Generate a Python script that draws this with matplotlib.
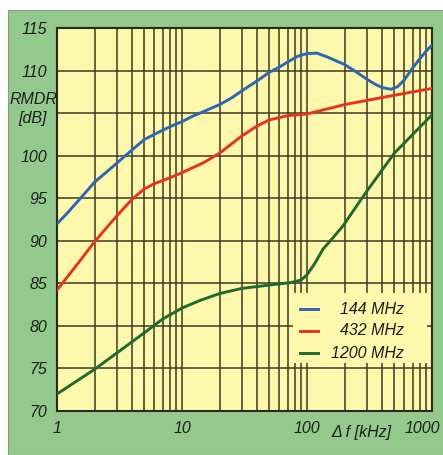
import matplotlib
matplotlib.use("Agg")
import matplotlib.pyplot as plt
import matplotlib.ticker as mticker
import matplotlib.transforms as mtransforms
from matplotlib.patches import Rectangle
from matplotlib.lines import Line2D

plt.rcParams['font.family'] = ['Liberation Sans', 'DejaVu Sans']
plt.rcParams['font.style'] = 'italic'

# values (offset in kHz, RMDR in dB)
f_144 = [1, 1.2, 1.5, 2, 2.5, 3, 4, 5, 6, 8, 10, 12, 15, 20, 25, 30, 40, 50, 60, 70, 85, 100, 120,
         145, 200, 250, 300, 350, 400, 470, 530, 600, 700, 800, 900, 1000]
rmdr_144 = [92.0, 93.2, 94.8, 96.9, 98.1, 99.1, 100.7, 101.9, 102.5, 103.4, 104.0, 104.6, 105.2,
            106.0, 106.8, 107.6, 108.8, 109.8, 110.4, 111.0, 111.7, 112.0, 112.05, 111.6, 110.7,
            109.8, 109.0, 108.4, 108.0, 107.8, 108.1, 108.9, 110.3, 111.4, 112.3, 113.0]

f_432 = [1, 1.5, 2, 3, 4, 5, 6, 8, 10, 15, 20, 30, 40, 50, 70, 100, 200, 500, 1000]
rmdr_432 = [84.2, 87.5, 89.9, 92.9, 94.9, 96.1, 96.7, 97.4, 98.0, 99.2, 100.3, 102.3, 103.5, 104.2,
            104.7, 104.9, 106.0, 107.1, 107.9]

f_1200 = [1, 2, 3, 5, 7, 10, 14, 20, 30, 50, 75, 90, 100, 115, 134, 160, 193, 300, 500, 1000]
rmdr_1200 = [72.0, 74.9, 76.8, 79.2, 80.8, 82.1, 83.0, 83.8, 84.4, 84.8, 85.1, 85.4, 86.0,
             87.3, 89.0, 90.3, 91.7, 95.8, 100.3, 104.8]

series = [
    ("144 MHz", f_144, rmdr_144, "#2d66b4"),
    ("432 MHz", f_432, rmdr_432, "#e5331f"),
    ("1200 MHz", f_1200, rmdr_1200, "#1f6a2c"),
]

x_ticks = [1, 10, 100, 1000]
y_ticks = list(range(70, 116, 5))
# the 105 slot carries the axis caption instead of a number
y_labels = ["" if t == 105 else str(t) for t in y_ticks]

W, H = 443, 455
fig = plt.figure(figsize=(W / 100, H / 100), dpi=100)
fig.patch.set_facecolor("white")

# green card behind the plot
fig.patches.append(Rectangle((8 / W, 0), 1 - 8 / W, 1 - 10 / H, transform=fig.transFigure,
                             facecolor="#93c98c", edgecolor="#8a9a88", lw=0.8, zorder=-10))

ax = fig.add_axes([57 / W, (H - 411) / H, 375 / W, 383 / H])
ax.set_facecolor("#fdf8ac")

for label, f, v, c in series:
    ax.plot(f, v, color=c, lw=2.1, solid_capstyle="round", solid_joinstyle="round", zorder=3)

ax.set_xscale("log")
ax.set_xlim(1, 1000)
ax.set_ylim(70, 115)
ax.set_xticks(x_ticks)
ax.set_xticklabels([str(t) for t in x_ticks])
ax.xaxis.set_minor_locator(mticker.LogLocator(base=10, subs=range(2, 10)))
ax.xaxis.set_minor_formatter(mticker.NullFormatter())
ax.set_yticks(y_ticks)
ax.set_yticklabels(y_labels)

ax.grid(which="both", axis="x", color="#3d3a22", lw=1.1, zorder=1)
ax.grid(which="major", axis="y", color="#3d3a22", lw=1.1, zorder=1)
ax.set_axisbelow(True)
ax.tick_params(which="both", length=0, labelsize=11.5, colors="#1e1e1e", pad=7)
for t in ax.get_xticklabels() + ax.get_yticklabels():
    t.set_fontstyle("italic")
for s in ax.spines.values():
    s.set_color("#2a2a1a")
    s.set_linewidth(1.5)

# nudge the last x label so it stays inside the card
last = ax.get_xticklabels()[-1]
last.set_transform(last.get_transform() + mtransforms.ScaledTranslation(-10 / 100, 0, fig.dpi_scale_trans))

# axis captions
fig.text(33.5 / W, 1 - 99 / H, "RMDR", ha="center", va="center", fontsize=11.5, color="#1e1e1e")
fig.text(33 / W, 1 - 119 / H, "[dB]", ha="center", va="center", fontsize=11.5, color="#1e1e1e")
ax.text((361 - 57) / 375, (411 - 433) / 383, "Δ f [kHz]", transform=ax.transAxes,
        ha="center", va="center", fontsize=11.5, color="#1e1e1e")

# legend drawn on a yellow patch that hides the grid
ax.add_patch(Rectangle((0.629, 0.125), 0.358, 0.183, transform=ax.transAxes,
                       facecolor="#fdf8ac", edgecolor="none", zorder=2))
rows_y = [0.266, 0.209, 0.151]
for (label, f, v, c), yy in zip(series, rows_y):
    ax.add_line(Line2D([0.648, 0.696], [yy, yy], transform=ax.transAxes, color=c, lw=2.1, zorder=4))
    ax.text(0.925, yy, label, transform=ax.transAxes, ha="right", va="center",
            fontsize=11.5, color="#1e1e1e", zorder=4)

fig.savefig("out.png", dpi=100, facecolor=fig.get_facecolor())
